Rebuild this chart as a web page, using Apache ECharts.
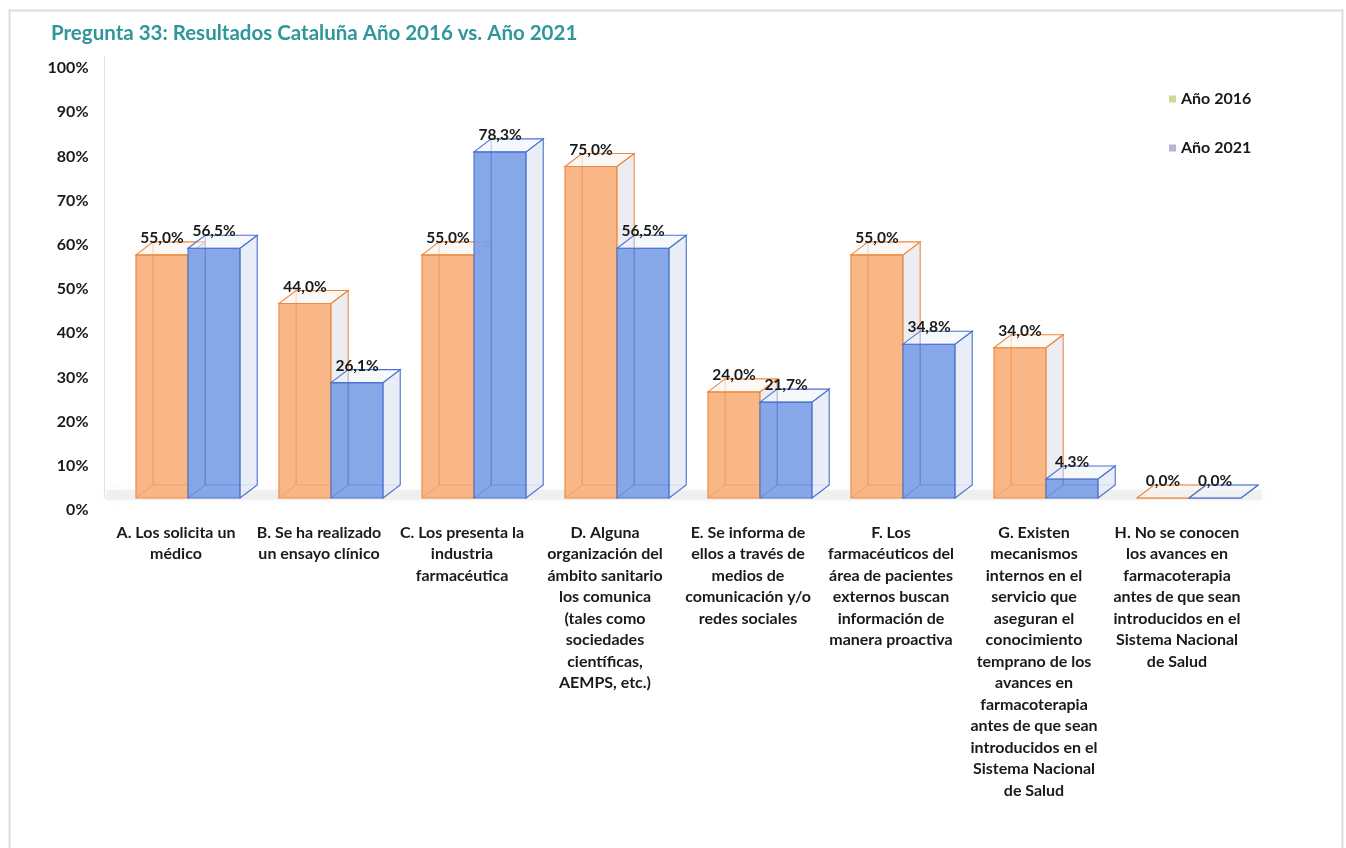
<!DOCTYPE html>
<html>
<head>
<meta charset="utf-8">
<script src="https://cdn.jsdelivr.net/npm/echarts@6/dist/echarts.min.js"></script>
<style>
html,body{margin:0;padding:0;background:#fff;}
#chart{width:1346px;height:848px;}
</style>
</head>
<body>
<div id="chart"></div>
<script>
const categories = [
  "A. Los solicita un\nmédico",
  "B. Se ha realizado\nun ensayo clínico",
  "C. Los presenta la\nindustria\nfarmacéutica",
  "D. Alguna\norganización del\námbito sanitario\nlos comunica\n(tales como\nsociedades\ncientíficas,\nAEMPS, etc.)",
  "E. Se informa de\nellos a través de\nmedios de\ncomunicación y/o\nredes sociales",
  "F. Los\nfarmacéuticos del\nárea de pacientes\nexternos buscan\ninformación de\nmanera proactiva",
  "G. Existen\nmecanismos\ninternos en el\nservicio que\naseguran el\nconocimiento\ntemprano de los\navances en\nfarmacoterapia\nantes de que sean\nintroducidos en el\nSistema Nacional\nde Salud",
  "H. No se conocen\nlos avances en\nfarmacoterapia\nantes de que sean\nintroducidos en el\nSistema Nacional\nde Salud"
];
const values2016 = [0.55, 0.44, 0.55, 0.75, 0.24, 0.55, 0.34, 0.0];
const values2021 = [0.565, 0.261, 0.783, 0.565, 0.217, 0.348, 0.043, 0.0];
const seriesNames = ["Año 2016", "Año 2021"];

const FONT = "Lato, 'Open Sans', sans-serif";

const styles = [
  {front: "rgba(249,176,124,0.92)", stroke: "#EE8A3E", side: "rgba(228,230,238,0.7)", top: "rgba(248,242,238,0.55)", offset: -0.28},
  {front: "rgba(124,160,230,0.92)", stroke: "#4A72D0", side: "rgba(224,230,242,0.7)", top: "rgba(238,242,250,0.55)", offset: 0.084}
];

function fmt(v){ return (v*100).toFixed(1).replace('.', ',') + '%'; }

function makeRender(si){
  const st = styles[si];
  return function(params, api){
    const idx = api.value(0), v = api.value(1);
    const base = api.coord([idx, 0]);
    const top = api.coord([idx, v]);
    const band = api.size([1, 0])[0];
    const w = band * 0.364;
    const x0 = base[0] + st.offset * band;
    const x1 = x0 + w;
    const yb = base[1], yt = top[1];
    const dx = band * 0.12, dy = -13;
    const lw = 1.1;
    return {
      type: 'group',
      children: [
        {type: 'rect', shape: {x: x0, y: yt, width: w, height: yb - yt},
         style: {fill: st.front, stroke: st.stroke, lineWidth: lw}},
        {type: 'line', shape: {x1: x0 + dx, y1: yb + dy, x2: x0 + dx, y2: yt + dy},
         style: {stroke: st.stroke, lineWidth: 1, opacity: 0.75}},
        {type: 'line', shape: {x1: x0 + dx, y1: yb + dy, x2: x1 + dx, y2: yb + dy},
         style: {stroke: st.stroke, lineWidth: 1, opacity: 0.45}},
        {type: 'line', shape: {x1: x0, y1: yb, x2: x0 + dx, y2: yb + dy},
         style: {stroke: st.stroke, lineWidth: 1, opacity: 0.45}},
        {type: 'polygon', shape: {points: [[x1, yb], [x1 + dx, yb + dy], [x1 + dx, yt + dy], [x1, yt]]},
         style: {fill: st.side, stroke: st.stroke, lineWidth: lw}},
        {type: 'polygon', shape: {points: [[x0, yt], [x0 + dx, yt + dy], [x1 + dx, yt + dy], [x1, yt]]},
         style: {fill: st.top, stroke: st.stroke, lineWidth: lw}},
        {type: 'text', z2: 100,
         style: {text: fmt(v), x: x0 + w / 2, y: yt - 17, align: 'center', verticalAlign: 'middle',
                 font: "bold 15.5px " + FONT, fill: '#1a1a1a'}}
      ]
    };
  };
}

const chart = echarts.init(document.getElementById('chart'));
chart.setOption({
  backgroundColor: '#ffffff',
  animation: false,
  title: {
    text: 'Pregunta 33: Resultados Cataluña Año 2016 vs. Año 2021',
    left: 46, top: 18,
    textStyle: {fontFamily: FONT, fontSize: 20.5, fontWeight: 'bold', color: '#2F969A'}
  },
  legend: {
    orient: 'vertical',
    left: 1164, top: 86,
    itemWidth: 7, itemHeight: 7, itemGap: 33,
    icon: 'rect',
    textStyle: {fontFamily: FONT, fontSize: 16, fontWeight: 'bold', color: '#1a1a1a'},
    data: [
      {name: seriesNames[0], itemStyle: {color: '#C9DB93'}},
      {name: seriesNames[1], itemStyle: {color: '#B5B5D6'}}
    ]
  },
  graphic: [
    {type: 'rect', left: 7, top: 8, shape: {width: 1333, height: 900},
     style: {fill: 'none', stroke: '#dcdcdc', lineWidth: 2}, z: -10},
    {type: 'rect', left: 106, top: 490, shape: {width: 1156, height: 10},
     style: {fill: 'rgba(218,218,218,0.3)', shadowBlur: 10, shadowColor: 'rgba(205,205,205,0.6)'}, z: -5}
  ],
  grid: [
    {left: 104.5, right: 97.5, top: 56, bottom: 350},
    {left: 104.5, right: 97.5, top: 68, bottom: 338}
  ],
  xAxis: [{
    type: 'category',
    gridIndex: 0,
    data: categories,
    axisLine: {show: false},
    axisTick: {show: false},
    splitLine: {show: false},
    axisLabel: {
      interval: 0, margin: 24,
      fontFamily: FONT, fontSize: 16, fontWeight: 'bold', color: '#1a1a1a', lineHeight: 21.5
    }
  }, {
    type: 'category', gridIndex: 1, data: categories, show: false
  }],
  yAxis: [{
    type: 'value',
    gridIndex: 0,
    min: 0, max: 1, interval: 0.1,
    axisLine: {show: true, lineStyle: {color: '#e2e2e2', width: 1}},
    axisTick: {show: false},
    splitLine: {show: false},
    axisLabel: {show: false}
  }, {
    type: 'value',
    gridIndex: 1,
    min: 0, max: 1, interval: 0.1,
    axisLine: {show: false},
    axisTick: {show: false},
    splitLine: {show: false},
    axisLabel: {
      margin: 16,
      formatter: function(v){ return Math.round(v * 100) + '%'; },
      fontFamily: FONT, fontSize: 16, fontWeight: 'bold', color: '#1a1a1a'
    }
  }],
  series: [
    {name: seriesNames[0], type: 'custom', renderItem: makeRender(0),
     xAxisIndex: 0, yAxisIndex: 0,
     itemStyle: {color: '#C9DB93'},
     data: values2016.map((v, i) => [i, v])},
    {name: seriesNames[1], type: 'custom', renderItem: makeRender(1),
     xAxisIndex: 0, yAxisIndex: 0,
     itemStyle: {color: '#B5B5D6'},
     data: values2021.map((v, i) => [i, v])}
  ]
});
</script>
</body>
</html>
